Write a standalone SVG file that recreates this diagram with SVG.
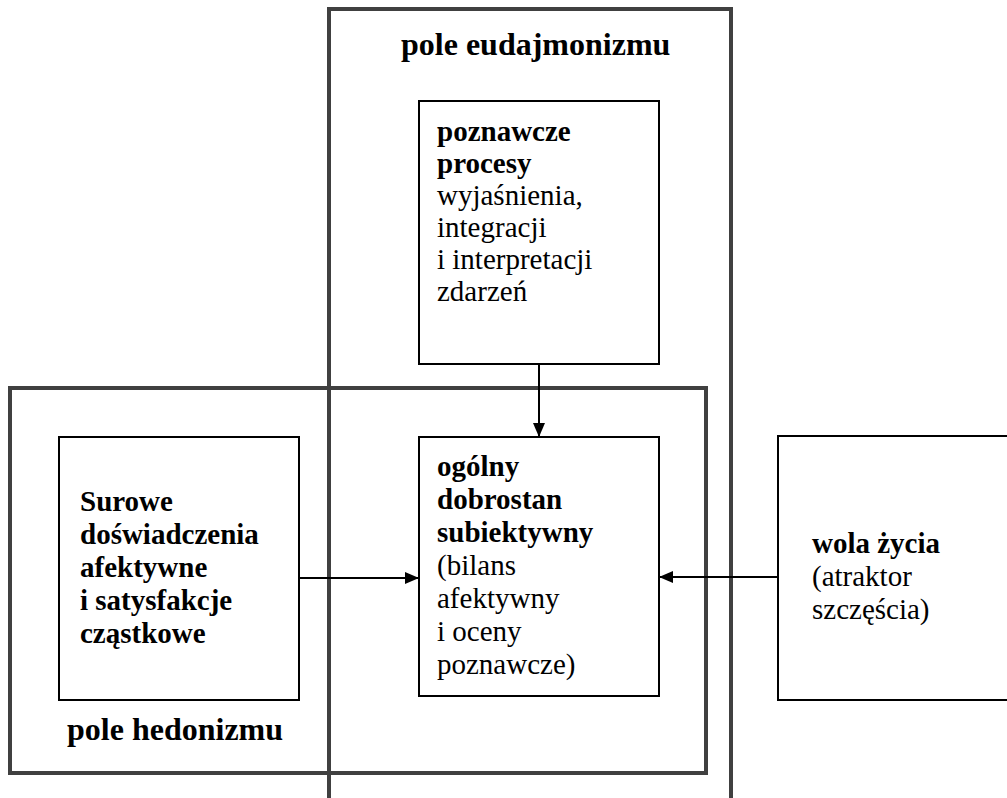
<svg xmlns="http://www.w3.org/2000/svg" width="1007" height="798" viewBox="0 0 1007 798">
<defs>
<style>
.field{fill:none;stroke:#404040;stroke-width:4}
.box{fill:#fff;stroke:#000;stroke-width:2}
text{font-family:'Liberation Serif','Times New Roman',Times,serif;font-size:29px;fill:#000}
.b{font-weight:bold}
.lbl{font-size:32px;font-weight:bold}
.conn{stroke:#000;stroke-width:2;fill:none}
</style>
<marker id="arr" viewBox="0 0 14 12" refX="14" refY="6" markerWidth="14" markerHeight="12" markerUnits="userSpaceOnUse" orient="auto">
<path d="M0,0 L14,6 L0,12 Z" fill="#000"/>
</marker>
</defs>
<rect width="1007" height="798" fill="#fff"/>
<g id="pole-eudajmonizmu">
<path class="field" d="M329,798 L329,9 L731,9 L731,798"/>
<text class="lbl" x="401" y="55">pole eudajmonizmu</text>
</g>
<g id="pole-hedonizmu">
<rect class="field" x="10" y="388" width="696" height="385"/>
<text class="lbl" x="67" y="740">pole hedonizmu</text>
</g>
<g id="connectors">
<line class="conn" x1="539" y1="364" x2="539" y2="437" marker-end="url(#arr)"/>
<line class="conn" x1="299" y1="578" x2="419" y2="578" marker-end="url(#arr)"/>
<line class="conn" x1="778" y1="577" x2="659" y2="577" marker-end="url(#arr)"/>
</g>
<g id="poznawcze-procesy">
<rect class="box" x="419" y="101" width="240" height="263"/>
<text x="437" y="141"><tspan class="b">poznawcze</tspan><tspan class="b" x="437" dy="32">procesy</tspan><tspan x="437" dy="32">wyjaśnienia,</tspan><tspan x="437" dy="32">integracji</tspan><tspan x="437" dy="32">i interpretacji</tspan><tspan x="437" dy="32">zdarzeń</tspan></text>
</g>
<g id="surowe-doswiadczenia">
<rect class="box" x="59" y="437" width="240" height="263"/>
<text class="b" x="80" y="511"><tspan>Surowe</tspan><tspan x="80" dy="33">doświadczenia</tspan><tspan x="80" dy="33">afektywne</tspan><tspan x="80" dy="33">i satysfakcje</tspan><tspan x="80" dy="33">cząstkowe</tspan></text>
</g>
<g id="dobrostan">
<rect class="box" x="419" y="437" width="240" height="259"/>
<text x="437" y="476"><tspan class="b">ogólny</tspan><tspan class="b" x="437" dy="33">dobrostan</tspan><tspan class="b" x="437" dy="33">subiektywny</tspan><tspan x="437" dy="33">(bilans</tspan><tspan x="437" dy="33">afektywny</tspan><tspan x="437" dy="33">i oceny</tspan><tspan x="437" dy="33">poznawcze)</tspan></text>
</g>
<g id="wola-zycia">
<rect class="box" x="778" y="436" width="240" height="264"/>
<text x="812" y="553"><tspan class="b">wola życia</tspan><tspan x="812" dy="33">(atraktor</tspan><tspan x="812" dy="33">szczęścia)</tspan></text>
</g>
</svg>
